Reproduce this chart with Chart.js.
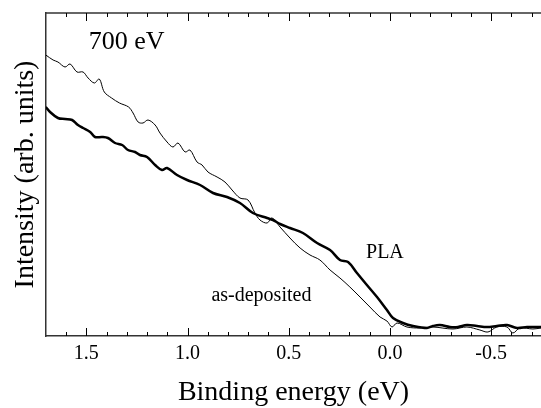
<!DOCTYPE html>
<html>
<head>
<meta charset="utf-8">
<script src="https://cdn.jsdelivr.net/npm/chart.js@4/dist/chart.umd.min.js"></script>
<style>
  body { margin: 0; background: #fff; }
  canvas { display: block; }
</style>
</head>
<body>
<canvas id="spec" width="541" height="408"></canvas>
<script>
// as-deposited (thin line)
const depEnergy = [1.70, 1.664, 1.640, 1.605, 1.580, 1.546, 1.516, 1.491, 1.460, 1.436, 1.411, 1.375, 1.336, 1.291, 1.269, 1.244, 1.220, 1.195, 1.160, 1.136, 1.101, 1.072, 1.047, 1.012, 0.988, 0.953, 0.928, 0.899, 0.854, 0.815, 0.780, 0.741, 0.701, 0.667, 0.642, 0.607, 0.583, 0.543, 0.494, 0.444, 0.395, 0.346, 0.296, 0.247, 0.198, 0.148, 0.099, 0.049, 0.015, -0.010, -0.035, -0.084, -0.148, -0.212, -0.311, -0.380, -0.444, -0.484, -0.528, -0.578, -0.607, -0.642, -0.706, -0.746];
const depIntensity = [281, 276, 274, 269, 272, 264, 264, 258, 253, 257, 244, 238, 233, 229, 223, 214, 213, 216, 211, 203, 194, 189, 193, 184, 186, 174, 171, 164, 159, 154, 146, 138, 136, 123, 116, 113, 118, 109, 98, 88, 81, 76, 66, 58, 49, 39, 29, 19, 15, 9, 13, 9, 8, 9, 7, 9, 6, 4, 9, 9, 3, 8, 7, 8];

// PLA (thick line)
const plaEnergy = [1.70, 1.679, 1.640, 1.605, 1.570, 1.541, 1.516, 1.481, 1.457, 1.422, 1.393, 1.358, 1.323, 1.294, 1.259, 1.235, 1.200, 1.160, 1.126, 1.101, 1.052, 1.002, 0.938, 0.874, 0.805, 0.741, 0.677, 0.607, 0.578, 0.543, 0.494, 0.430, 0.360, 0.296, 0.247, 0.207, 0.163, 0.114, 0.064, 0.015, -0.015, -0.064, -0.114, -0.183, -0.212, -0.247, -0.296, -0.336, -0.380, -0.430, -0.479, -0.528, -0.578, -0.627, -0.677, -0.746];
const plaIntensity = [229, 224, 218, 217, 216, 211, 208, 204, 199, 199, 198, 193, 191, 186, 184, 181, 179, 171, 166, 168, 161, 156, 151, 143, 139, 133, 123, 118, 116, 112, 108, 103, 93, 86, 76, 74, 63, 51, 39, 26, 18, 13, 10, 8, 10, 11, 9, 9, 11, 10, 9, 10, 11, 8, 9, 9];

const tickLabels = ['1.5', '1.0', '0.5', '0.0', '-0.5'];
const xMin = -0.746, xMax = 1.699;

const serif = 'Liberation Serif, Times New Roman, serif';

const pts = (xs, ys) => xs.map((x, i) => ({ x: x, y: ys[i] }));

// inward ticks on top & bottom, top frame line, text labels
const frame = {
  id: 'frame',
  afterDraw(chart) {
    const { ctx, chartArea: a, scales: { x, y } } = chart;
    ctx.save();
    ctx.strokeStyle = '#333';
    ctx.lineWidth = 1.5;
    ctx.beginPath();
    ctx.moveTo(a.left, a.top);
    ctx.lineTo(a.right, a.top);
    ctx.stroke();

    ctx.strokeStyle = '#000';
    ctx.lineWidth = 1;
    for (let k = -7; k <= 17; k++) {
      const v = k / 10;
      if (v < xMin || v > xMax) continue;
      const px = Math.round(x.getPixelForValue(v)) + 0.5;
      const len = k % 5 === 0 ? 8 : 4;
      ctx.beginPath();
      ctx.moveTo(px, a.bottom);
      ctx.lineTo(px, a.bottom - len);
      ctx.moveTo(px, a.top);
      ctx.lineTo(px, a.top + len);
      ctx.stroke();
    }

    ctx.fillStyle = '#000';
    ctx.textAlign = 'center';
    ctx.textBaseline = 'middle';
    ctx.font = '26px ' + serif;
    ctx.fillText('700 eV', x.getPixelForValue(1.301), y.getPixelForValue(294));
    ctx.font = '20px ' + serif;
    ctx.fillText('PLA', x.getPixelForValue(0.025), y.getPixelForValue(83));
    ctx.fillText('as-deposited', x.getPixelForValue(0.635), y.getPixelForValue(40));
    ctx.restore();
  }
};

new Chart(document.getElementById('spec'), {
  type: 'line',
  data: {
    datasets: [{
      label: 'as-deposited',
      data: pts(depEnergy, depIntensity),
      borderColor: '#000',
      borderWidth: 1,
      pointRadius: 0,
      tension: 0.35
    }, {
      label: 'PLA',
      data: pts(plaEnergy, plaIntensity),
      borderColor: '#000',
      borderWidth: 2.5,
      pointRadius: 0,
      tension: 0.35
    }]
  },
  options: {
    responsive: false,
    animation: false,
    devicePixelRatio: 1,
    layout: { padding: { top: 13, right: 0, left: 0, bottom: 0 } },
    plugins: { legend: { display: false }, tooltip: { enabled: false } },
    scales: {
      x: {
        type: 'linear',
        reverse: true,
        min: xMin,
        max: xMax,
        grid: { display: false, drawTicks: false },
        border: { display: true, color: '#333', width: 1.5 },
        ticks: {
          stepSize: 0.5,
          includeBounds: false,
          autoSkip: false,
          maxRotation: 0,
          padding: 6,
          color: '#000',
          font: { family: serif, size: 20 },
          callback: (v) => {
            const i = Math.round((1.5 - v) / 0.5);
            return tickLabels[i] !== undefined ? tickLabels[i] : '';
          }
        },
        title: {
          display: true,
          text: 'Binding energy (eV)',
          color: '#000',
          font: { family: serif, size: 28, lineHeight: 1.1 },
          padding: { top: 0, bottom: 0 }
        },
        afterFit: (s) => { s.height = 72; }
      },
      y: {
        min: 0,
        max: 323,
        grid: { display: false, drawTicks: false },
        border: { display: true, color: '#333', width: 1.5 },
        ticks: { display: false },
        title: {
          display: true,
          text: 'Intensity (arb. units)',
          color: '#000',
          font: { family: serif, size: 28, lineHeight: 1.1 },
          padding: { top: 10, bottom: 0 }
        },
        afterFit: (s) => { s.width = 46; }
      }
    }
  },
  plugins: [frame]
});
</script>
</body>
</html>
